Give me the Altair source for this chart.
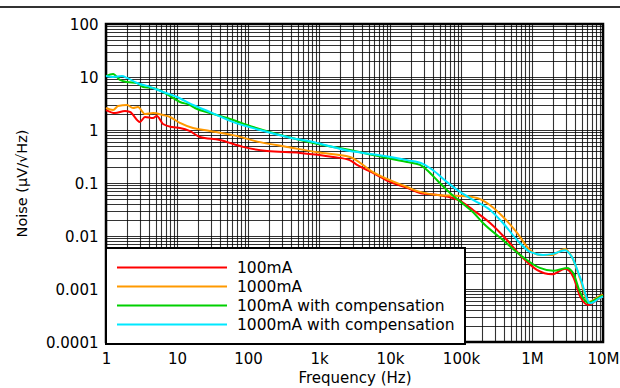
import altair as alt
import pandas as pd

series_names = ["100mA", "1000mA", "100mA with compensation", "1000mA with compensation"]
series_colors = ["#ff0000", "#ff9900", "#00d000", "#00e8ff"]

red_f = [1, 1.34, 1.85, 2.18, 3.0, 3.54, 4.6, 5.2, 6.35, 8.5, 11, 15, 21, 40, 85, 185, 540, 1580, 2700,
         3430, 5750, 10000, 17400, 26500, 50500, 77000, 97000, 148000, 257000, 445000, 724000,
         1.17e6, 1.91e6, 2.92e6, 3.8e6, 4.8e6, 6.2e6, 9.1e6, 1e7]
red_v = [2.38, 2.09, 2.28, 2.19, 1.42, 1.76, 1.68, 1.84, 1.30, 1.14, 1.09, 0.96, 0.74, 0.65, 0.48, 0.40,
         0.37, 0.31, 0.27, 0.22, 0.155, 0.105, 0.081, 0.065, 0.059, 0.052, 0.046, 0.031, 0.0176, 0.0084,
         0.0040, 0.0023, 0.0019, 0.0024, 0.0017, 0.00071, 0.00050, 0.00068, 0.00072]

orange_f = [1, 1.26, 1.48, 1.98, 2.4, 2.82, 3.54, 4.6, 6.35, 8, 11, 16.8, 29, 61, 148, 355, 940, 2730,
            5750, 17400, 26500, 50500, 97000, 168000, 257000, 390000, 617000, 940000, 1.29e6, 1.91e6,
            2.92e6, 3.65e6, 4.8e6, 6.2e6, 9.1e6, 1e7]
orange_v = [2.6, 2.38, 2.84, 2.96, 2.6, 2.72, 2.0, 2.09, 1.92, 1.76, 1.36, 1.09, 0.96, 0.80, 0.59, 0.48,
            0.38, 0.31, 0.16, 0.084, 0.068, 0.059, 0.057, 0.052, 0.038, 0.023, 0.0115, 0.0054, 0.0044,
            0.0044, 0.0057, 0.0040, 0.0015, 0.00057, 0.00074, 0.00078]

green_f = [1, 1.26, 1.57, 1.98, 2.73, 3.32, 4.6, 7.2, 11, 15.2, 17.9, 29, 51, 97, 225, 540, 1570, 2730,
           5750, 17400, 26500, 33000, 45700, 70000, 97000, 148000, 204000, 390000, 745000, 1.29e6,
           1.99e6, 3.1e6, 3.8e6, 4.8e6, 6.2e6, 9.1e6, 1e7]
green_v = [10.4, 11.4, 8.8, 8.05, 7.7, 6.5, 6.2, 4.77, 3.37, 2.96, 2.6, 2.09, 1.68, 1.24, 0.88, 0.65,
           0.48, 0.42, 0.337, 0.249, 0.219, 0.176, 0.114, 0.065, 0.045, 0.028, 0.0176, 0.0084, 0.0040,
           0.0025, 0.0022, 0.0025, 0.0020, 0.00084, 0.00055, 0.00071, 0.00075]

cyan_f = [1, 1.26, 1.68, 1.98, 2.73, 4.17, 6.35, 10, 16.8, 29, 61, 148, 355, 940, 2730, 5750, 17400,
          29000, 40000, 63000, 97000, 148000, 257000, 390000, 617000, 940000, 1.43e6, 1.98e6, 2.92e6,
          3.65e6, 4.8e6, 6.6e6, 9.1e6, 1e7]
cyan_v = [10.4, 10.0, 10.4, 9.6, 7.7, 6.5, 5.2, 4.2, 2.96, 2.19, 1.42, 1.0, 0.74, 0.57, 0.40, 0.35, 0.27,
          0.23, 0.176, 0.105, 0.068, 0.048, 0.031, 0.0176, 0.0084, 0.0050, 0.0044, 0.0046, 0.0054,
          0.0040, 0.0016, 0.00054, 0.00068, 0.00072]

x_tick_values = [1, 10, 100, 1000, 10000, 100000, 1000000, 10000000]
x_tick_labels = ["1", "10", "100", "1k", "10k", "100k", "1M", "10M"]
y_tick_values = [0.0001, 0.001, 0.01, 0.1, 1, 10, 100]
y_tick_labels = ["0.0001", "0.001", "0.01", "0.1", "1", "10", "100"]

x_title = "Frequency (Hz)"
y_title = "Noise (\u00b5V/\u221aHz)"

FONT = "DejaVu Sans"


def grid_values(decades):
    vals = []
    for d in decades[:-1]:
        for k in range(1, 10):
            vals.append(k * d)
    vals.append(decades[-1])
    return vals


def label_expr(values, labels):
    expr = "''"
    for v, l in reversed(list(zip(values, labels))):
        expr = f"datum.value == {v!r} ? '{l}' : ({expr})"
    return expr


frames = []
for name, fs, vs in zip(series_names,
                        [red_f, orange_f, green_f, cyan_f],
                        [red_v, orange_v, green_v, cyan_v]):
    frames.append(pd.DataFrame({"freq": fs, "noise": vs, "series": name}))
df = pd.concat(frames, ignore_index=True)

lines = alt.Chart(df).mark_line(strokeWidth=2, interpolate="monotone").encode(
    x=alt.X("freq:Q",
            scale=alt.Scale(type="log", domain=[1, 1e7], nice=False),
            axis=alt.Axis(values=grid_values(x_tick_values),
                          labelExpr=label_expr(x_tick_values, x_tick_labels),
                          title=x_title, ticks=False, domain=False,
                          labelBaseline="alphabetic", labelPadding=21,
                          labelFontSize=15, labelColor="black",
                          titleFontSize=15, titleFontWeight="normal", titleColor="black",
                          titleY=40, titleBaseline="alphabetic",
                          labelOverlap=False, labelFlush=False,
                          gridColor="black", gridOpacity=0.8, gridWidth=1.1)),
    y=alt.Y("noise:Q",
            scale=alt.Scale(type="log", domain=[0.0001, 100], nice=False),
            axis=alt.Axis(values=grid_values(y_tick_values),
                          labelExpr=label_expr(y_tick_values, y_tick_labels),
                          title=y_title, ticks=False, domain=False,
                          labelPadding=8, labelFontSize=15, labelColor="black",
                          titleFontSize=14.5, titleFontWeight="normal", titleColor="black",
                          titleX=-80, titleY=159, titleBaseline="alphabetic", titleAngle=270,
                          labelOverlap=False, labelFlush=False,
                          gridColor="black", gridOpacity=0.8, gridWidth=1.1)),
    color=alt.Color("series:N",
                    scale=alt.Scale(domain=series_names, range=series_colors),
                    legend=alt.Legend(title=None, orient="none", legendX=0, legendY=224,
                                      symbolType="stroke", symbolSize=12100, symbolStrokeWidth=2,
                                      labelFontSize=15.5, labelColor="black", labelOffset=9,
                                      labelLimit=0,
                                      symbolOffset=0, clipHeight=19, rowPadding=0, padding=10,
                                      strokeColor="black", fillColor="white")),
)

top_line = alt.Chart(pd.DataFrame({"a": [0]})).mark_rule(color="#333333", strokeWidth=2).encode(
    x=alt.value(-106), x2=alt.value(514), y=alt.value(-17)
)

chart = alt.layer(lines, top_line).properties(
    width=497, height=318,
    autosize=alt.AutoSizeParams(type="none"),
    padding={"left": 106, "top": 24, "right": 17, "bottom": 46},
).configure(font=FONT).configure_view(
    stroke="black", strokeWidth=2.5
).configure_legend(strokeWidth=2)

chart.save("out.html", embed_options={"renderer": "svg", "actions": False})
